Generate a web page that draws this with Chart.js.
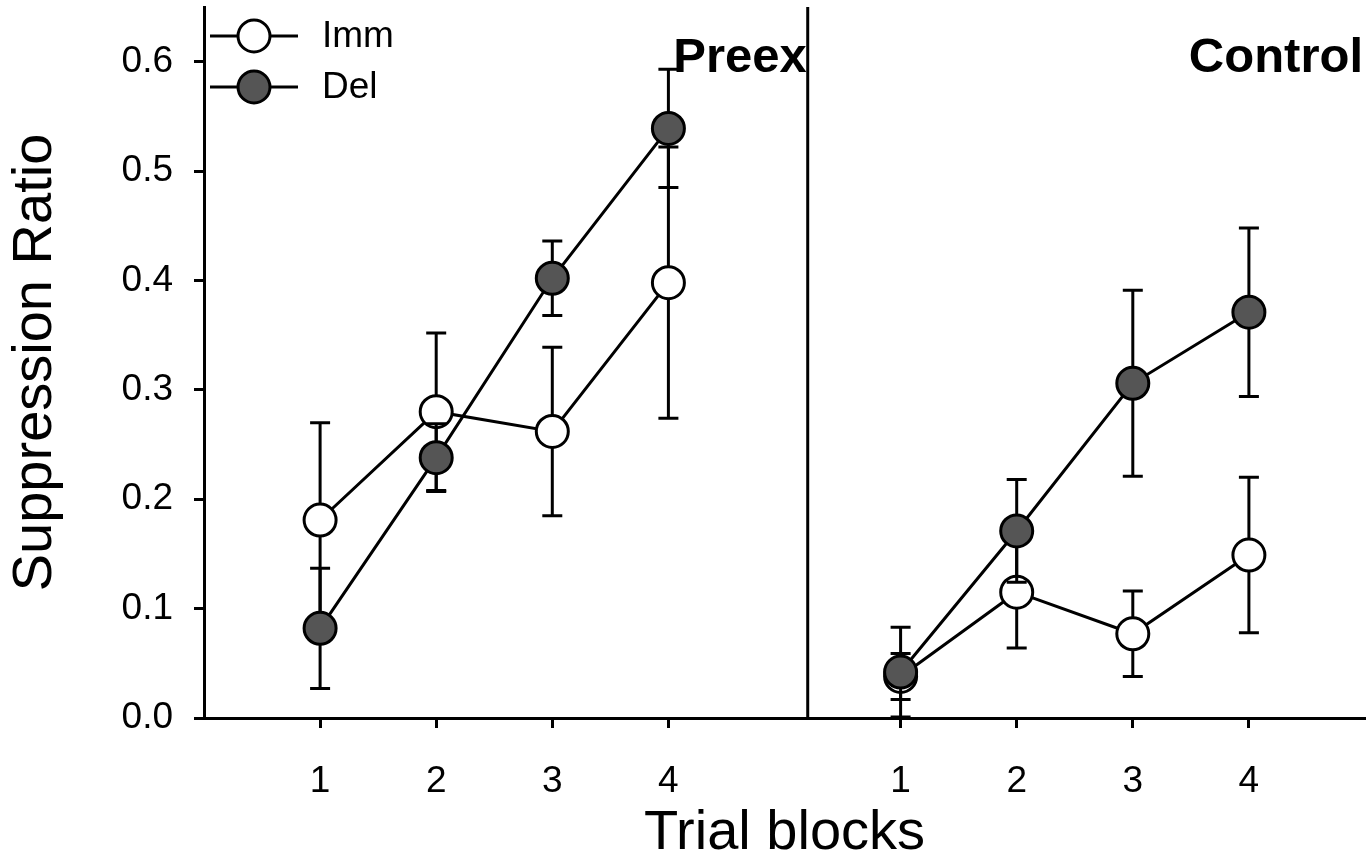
<!DOCTYPE html>
<html>
<head>
<meta charset="utf-8">
<title>Suppression Ratio</title>
<script src="https://cdn.jsdelivr.net/npm/chart.js@4/dist/chart.umd.min.js"></script>
<style>
  html, body { margin: 0; padding: 0; background: #fff; }
  canvas { display: block; }
</style>
</head>
<body>
<canvas id="suppressionChart" width="1367" height="857"></canvas>
<script>
// Trial block positions on the shared x scale (Preex left, Control right)
const preexBlocks = [1, 2, 3, 4];
const controlBlocks = [6, 7, 8, 9];
const xTickLabels = ['1', '2', '3', '4', '1', '2', '3', '4'];
const yTicks = [0, 0.1, 0.2, 0.3, 0.4, 0.5, 0.6];
const panelDivider = 5.2;

// Group means and error bars
const immPreex = [0.181, 0.280, 0.262, 0.398];
const immPreexErr = [0.089, 0.072, 0.077, 0.124];
const delPreex = [0.082, 0.238, 0.402, 0.539];
const delPreexErr = [0.055, 0.031, 0.034, 0.054];

const immControl = [0.038, 0.115, 0.077, 0.149];
const immControlErr = [0.021, 0.051, 0.039, 0.071];
const delControl = [0.042, 0.171, 0.306, 0.371];
const delControlErr = [0.041, 0.047, 0.085, 0.077];

const FONT = "'Liberation Sans', Arial, sans-serif";
const DEL_FILL = '#555555';

/**
 * Build one line dataset for a group in a panel
 */
function series(label, xs, ys, errs, fill, order) {
  return {
    label: label,
    data: xs.map((x, i) => ({ x: x, y: ys[i] })),
    errors: errs,
    borderColor: '#000',
    borderWidth: 3,
    pointRadius: 16,
    pointBorderWidth: 3,
    pointBorderColor: '#000',
    pointBackgroundColor: fill,
    tension: 0,
    clip: false,
    order: order
  };
}

// Fixed axis box sizes so the plot area lines up with the figure
function fixBox(size) {
  return scale => {
    if (scale.isHorizontal()) scale.height = size;
    else scale.width = size;
    scale.paddingTop = 0;
    scale.paddingBottom = 0;
    scale.paddingLeft = 0;
    scale.paddingRight = 0;
  };
}

// Draws the vertical error bars under each dataset's line and markers
const errorBars = {
  id: 'errorBars',
  beforeDatasetDraw(chart, args) {
    const ds = chart.data.datasets[args.index];
    if (!ds.errors) return;
    const ctx = chart.ctx;
    const yScale = chart.scales.y;
    ctx.save();
    ctx.strokeStyle = '#000';
    ctx.lineWidth = 3;
    args.meta.data.forEach((pt, i) => {
      const v = ds.data[i].y;
      const e = ds.errors[i];
      const top = yScale.getPixelForValue(v + e);
      const bottom = yScale.getPixelForValue(v - e);
      ctx.beginPath();
      ctx.moveTo(pt.x, top);
      ctx.lineTo(pt.x, bottom);
      ctx.moveTo(pt.x - 10, top);
      ctx.lineTo(pt.x + 10, top);
      ctx.moveTo(pt.x - 10, bottom);
      ctx.lineTo(pt.x + 10, bottom);
      ctx.stroke();
    });
    ctx.restore();
  }
};

// Panel divider, panel names and the legend
const decorations = {
  id: 'decorations',
  beforeDatasetsDraw(chart) {
    const { ctx, chartArea } = chart;
    const xd = chart.scales.x.getPixelForValue(panelDivider);
    ctx.save();
    ctx.strokeStyle = '#000';
    ctx.lineWidth = 3;
    ctx.beginPath();
    ctx.moveTo(xd, chartArea.top);
    ctx.lineTo(xd, chartArea.bottom);
    ctx.stroke();
    ctx.restore();
  },
  afterDraw(chart) {
    const { ctx, chartArea } = chart;
    const xd = chart.scales.x.getPixelForValue(panelDivider);
    ctx.save();
    ctx.fillStyle = '#000';
    ctx.font = 'bold 49px ' + FONT;
    ctx.textAlign = 'right';
    ctx.textBaseline = 'alphabetic';
    ctx.fillText('Preex', xd - 1, chartArea.top + 65);
    ctx.fillText('Control', chartArea.right - 2, chartArea.top + 65);

    // legend
    const rows = [
      { label: 'Imm', fill: '#fff', y: 36 },
      { label: 'Del', fill: DEL_FILL, y: 87 }
    ];
    const x0 = chartArea.left + 6;
    rows.forEach(r => {
      ctx.strokeStyle = '#000';
      ctx.lineWidth = 3;
      ctx.beginPath();
      ctx.moveTo(x0, r.y);
      ctx.lineTo(x0 + 88, r.y);
      ctx.stroke();
      ctx.beginPath();
      ctx.arc(x0 + 44, r.y, 16, 0, Math.PI * 2);
      ctx.fillStyle = r.fill;
      ctx.fill();
      ctx.stroke();
      ctx.fillStyle = '#000';
      ctx.font = '37px ' + FONT;
      ctx.textAlign = 'left';
      ctx.textBaseline = 'middle';
      ctx.fillText(r.label, x0 + 112, r.y + 1);
    });
    ctx.restore();
  }
};

const axisGrid = {
  display: true,
  drawOnChartArea: false,
  drawTicks: true,
  tickLength: 10,
  tickColor: '#000',
  tickWidth: 3
};

new Chart(document.getElementById('suppressionChart'), {
  type: 'line',
  data: {
    datasets: [
      series('Imm', preexBlocks, immPreex, immPreexErr, '#fff', 2),
      series('Imm', controlBlocks, immControl, immControlErr, '#fff', 2),
      series('Del', preexBlocks, delPreex, delPreexErr, DEL_FILL, 1),
      series('Del', controlBlocks, delControl, delControlErr, DEL_FILL, 1)
    ]
  },
  options: {
    responsive: false,
    animation: false,
    events: [],
    devicePixelRatio: 1,
    layout: {
      autoPadding: false,
      padding: { top: 7, right: 2, left: 0, bottom: 0 }
    },
    plugins: {
      legend: { display: false },
      tooltip: { enabled: false }
    },
    scales: {
      x: {
        type: 'linear',
        min: 0,
        max: 10,
        grid: axisGrid,
        border: { display: true, color: '#000', width: 3 },
        afterBuildTicks: scale => {
          scale.ticks = preexBlocks.concat(controlBlocks).map(v => ({ value: v }));
        },
        afterFit: fixBox(139),
        ticks: {
          color: '#000',
          padding: 32,
          maxRotation: 0,
          autoSkip: false,
          font: { family: FONT, size: 37 },
          callback: (value, index) => xTickLabels[index]
        },
        title: {
          display: true,
          text: 'Trial blocks',
          color: '#000',
          padding: 0,
          font: { family: FONT, size: 56, lineHeight: 0.82 }
        }
      },
      y: {
        min: 0,
        max: 0.65,
        grid: axisGrid,
        border: { display: true, color: '#000', width: 3 },
        afterBuildTicks: scale => {
          scale.ticks = yTicks.map(v => ({ value: v }));
        },
        afterFit: fixBox(204),
        ticks: {
          color: '#000',
          padding: 21,
          font: { family: FONT, size: 37 },
          callback: value => value.toFixed(1)
        },
        title: {
          display: true,
          text: 'Suppression Ratio',
          color: '#000',
          padding: { top: 2, bottom: 0 },
          font: { family: FONT, size: 56, lineHeight: 1.2 }
        }
      }
    }
  },
  plugins: [errorBars, decorations]
});
</script>
</body>
</html>
